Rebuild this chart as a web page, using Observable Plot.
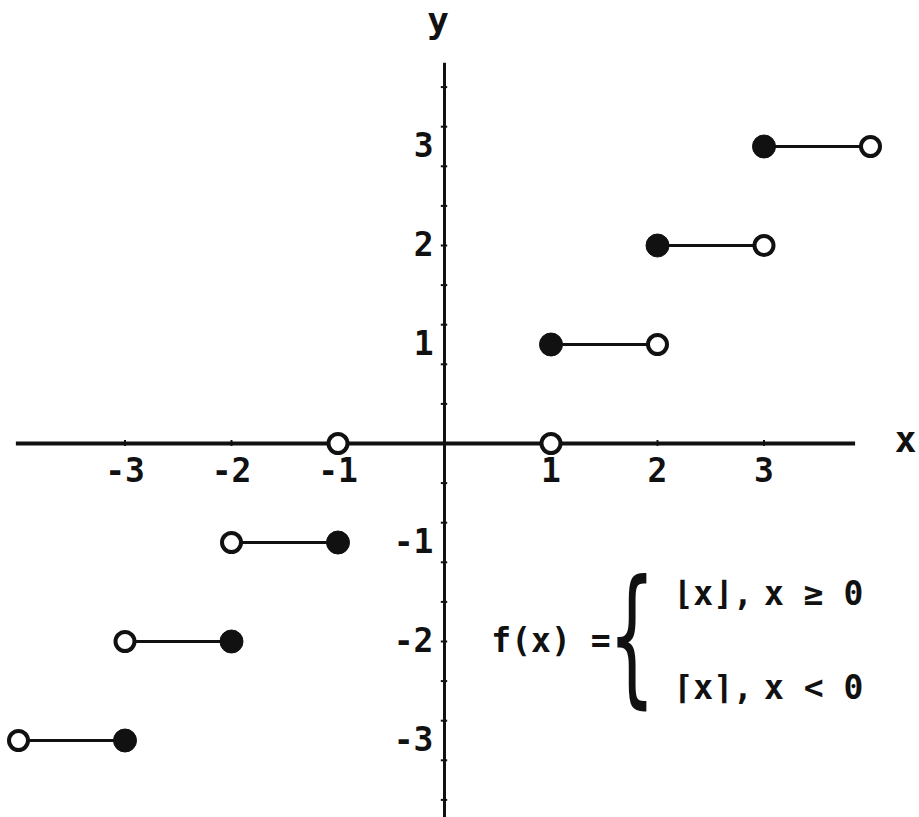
<!DOCTYPE html>
<html>
<head>
<meta charset="utf-8">
<script src="https://cdn.jsdelivr.net/npm/d3@7"></script>
<script src="https://cdn.jsdelivr.net/npm/@observablehq/plot@0.6"></script>
<style>
  html, body { margin: 0; padding: 0; background: #fff; }
  #chart svg { display: block; }
</style>
</head>
<body>
<div id="chart"></div>
<script>
// Step segments of f(x): level, start x, end x
const stepLevel = [-3, -2, -1, 0, 1, 2, 3];
const stepStart = [-4, -3, -2, -1, 1, 2, 3];
const stepEnd   = [-3, -2, -1, 1, 2, 3, 4];
// Closed (filled) endpoints
const closedX = [-3, -2, -1, 1, 2, 3];
const closedY = [-3, -2, -1, 1, 2, 3];
// Open endpoints
const openX = [-4, -3, -2, -1, 1, 2, 3, 4];
const openY = [-3, -2, -1, 0, 0, 1, 2, 3];
// Tick labels
const xTicks = [-3, -2, -1, 1, 2, 3];
const xTickLabels = ["-3", "-2", "-1", "1", "2", "3"];
const yTicks = [-3, -2, -1, 1, 2, 3];
const yTickLabels = ["-3", "-2", "-1", "1", "2", "3"];
// Small hash marks along the y axis
const yHashes = [-3.6, -3.2, -2.8, -2.4, -2.0, -1.6, -1.2, -0.8, -0.4, 0.4, 0.8, 1.2, 1.6, 2.0, 2.4, 2.8, 3.2, 3.6];
// Axis extents
const xAxisExtent = [-4.02, 3.86];
const yAxisExtent = [-3.8, 3.84];
// Formula annotation
const formulaLead = [{x: 0.44, y: -2, text: "f(x) ="}];
const formulaBrace = [{x: 1.76, y: -1.97, text: "{"}];
const formulaFns = [
  {x: 2.15, y: -1.52, text: "⌊x⌋,"},
  {x: 2.15, y: -2.47, text: "⌈x⌉,"}
];
const formulaConds = [
  {x: 3.0, y: -1.52, text: "x ≥ 0"},
  {x: 3.0, y: -2.47, text: "x < 0"}
];
const axisNames = [
  {x: 4.33, y: 0.03, text: "x"},
  {x: -0.06, y: 4.26, text: "y"}
];

const segments = stepLevel.map((v, i) => ({y: v, x1: stepStart[i], x2: stepEnd[i]}));
const closedPts = closedX.map((x, i) => ({x, y: closedY[i]}));
const openPts = openX.map((x, i) => ({x, y: openY[i]}));
const xt = xTicks.map((v, i) => ({v, label: xTickLabels[i]}));
const yt = yTicks.map((v, i) => ({v, label: yTickLabels[i]}));

const font = "DejaVu Sans Mono";
const ink = "#111";

const chart = Plot.plot({
  width: 919,
  height: 817,
  marginLeft: 18,
  marginRight: 49,
  marginTop: 146,
  marginBottom: 77,
  style: {background: "#fff", fontFamily: font},
  x: {domain: [-4, 4], axis: null},
  y: {domain: [-3, 3], axis: null},
  marks: [
    // axes
    Plot.ruleY([0], {x1: xAxisExtent[0], x2: xAxisExtent[1], stroke: ink, strokeWidth: 4}),
    Plot.ruleX([0], {y1: yAxisExtent[0], y2: yAxisExtent[1], stroke: ink, strokeWidth: 3}),
    // tiny tick marks
    Plot.ruleX(xTicks, {y1: -0.03, y2: 0.03, stroke: ink, strokeWidth: 2}),
    Plot.ruleY(yHashes, {x1: -0.03, x2: 0.03, stroke: ink, strokeWidth: 2}),
    // tick labels
    Plot.text(xt, {x: "v", y: 0, text: "label", dy: 28, fontSize: 33, fontWeight: "bold", fill: ink}),
    Plot.text(yt, {x: 0, y: "v", text: "label", dx: -11, textAnchor: "end", fontSize: 33, fontWeight: "bold", fill: ink}),
    // axis names
    Plot.text(axisNames, {x: "x", y: "y", text: "text", fontSize: 36, fontWeight: "bold", fill: ink}),
    // step segments
    Plot.link(segments, {x1: "x1", x2: "x2", y1: "y", y2: "y", stroke: ink, strokeWidth: 3}),
    // endpoints
    Plot.dot(closedPts, {x: "x", y: "y", r: 11.5, fill: ink, stroke: ink, strokeWidth: 1}),
    Plot.dot(openPts, {x: "x", y: "y", r: 9.5, fill: "#fff", stroke: ink, strokeWidth: 4}),
    // formula
    Plot.text(formulaLead, {x: "x", y: "y", text: "text", textAnchor: "start", fontSize: 33, fontWeight: "bold", fill: ink}),
    Plot.text(formulaBrace, {x: "x", y: "y", text: "text", fontSize: 150, fontWeight: "normal", fontFamily: "DejaVu Sans", fill: ink, className: "brace"}),
    Plot.text(formulaFns, {x: "x", y: "y", text: "text", textAnchor: "start", fontSize: 33, fontWeight: "bold", fill: ink}),
    Plot.text(formulaConds, {x: "x", y: "y", text: "text", textAnchor: "start", fontSize: 33, fontWeight: "bold", fill: ink})
  ]
});
// narrow the tall brace glyph horizontally
d3.select(chart).selectAll(".brace text").each(function() {
  const t = this.getAttribute("transform") || "";
  this.setAttribute("transform", t + " scale(0.5,1)");
});
document.getElementById("chart").appendChild(chart);
</script>
</body>
</html>
